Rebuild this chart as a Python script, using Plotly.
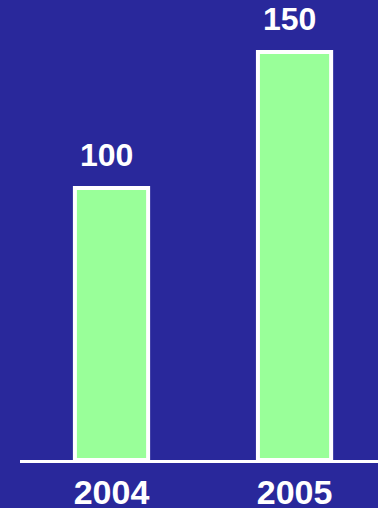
import plotly.graph_objects as go

years = ["2004", "2005"]
values = [100, 150]

BG = "#29289B"
BAR = "#99FF99"
FONT = "Liberation Sans, Arial, sans-serif"

fig = go.Figure()
fig.add_trace(go.Bar(
    x=years, y=values, width=0.4,
    marker=dict(color=BAR, line=dict(color="white", width=4)),
    hoverinfo="skip",
))

for i, v in enumerate(values):
    fig.add_annotation(x=i, y=v, xref="x", yref="y", text="<b>%d</b>" % v,
                       showarrow=False, yanchor="bottom", yshift=13, xshift=-5,
                       font=dict(family=FONT, size=32, color="white"))

fig.update_layout(
    width=378, height=508,
    margin=dict(l=20, r=0, t=0, b=48, autoexpand=False),
    paper_bgcolor=BG, plot_bgcolor=BG,
    showlegend=False,
    xaxis=dict(type="category", range=[-0.5, 1.456], showgrid=False, zeroline=False,
               automargin=False,
               showline=True, linecolor="white", linewidth=3,
               ticks="", ticklen=0,
               tickfont=dict(family=FONT, size=34, color="white", weight="bold")),
    yaxis=dict(range=[0, 169.1], showgrid=False, zeroline=False, showticklabels=False,
               showline=False, fixedrange=True, automargin=False),
)

fig.write_html("out.html")
